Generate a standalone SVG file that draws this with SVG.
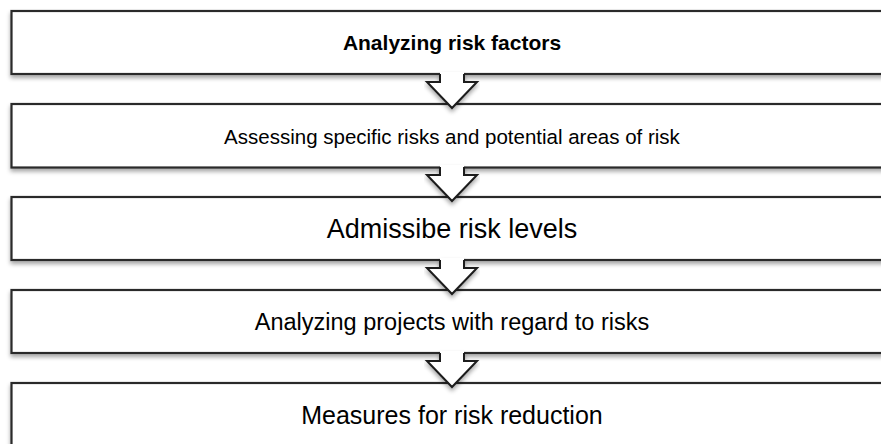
<svg xmlns="http://www.w3.org/2000/svg" width="881" height="444" viewBox="0 0 881 444">
  <defs>
    <filter id="shadow" x="-5%" y="-20%" width="110%" height="160%">
      <feDropShadow dx="0" dy="3" stdDeviation="2" flood-color="#000" flood-opacity="0.35"/>
    </filter>
  </defs>
  <style>
    .box { fill: #fff; stroke: #2a2a2a; stroke-width: 2.2; filter: url(#shadow); }
    .label { font-family: "Liberation Sans", Arial, sans-serif; fill: #000; text-anchor: middle; dominant-baseline: central; }
    .arrow-fill { fill: #fff; stroke: none; }
    .arrow-line { fill: none; stroke: #1a1a1a; stroke-width: 2; stroke-linejoin: miter; }
  </style>

  <!-- process steps -->
  <g id="step-1">
    <rect class="box" x="11.5" y="11" width="882" height="63"/>
    <text class="label" x="452" y="42.5" font-size="21" font-weight="bold">Analyzing risk factors</text>
  </g>
  <g id="step-2">
    <rect class="box" x="11.5" y="104" width="882" height="63.5"/>
    <text class="label" x="452" y="136" font-size="20.5">Assessing specific risks and potential areas of risk</text>
  </g>
  <g id="step-3">
    <rect class="box" x="11.5" y="197" width="882" height="63"/>
    <text class="label" x="452" y="228.5" font-size="27">Admissibe risk levels</text>
  </g>
  <g id="step-4">
    <rect class="box" x="11.5" y="290" width="882" height="63"/>
    <text class="label" x="452" y="321.5" font-size="23.5">Analyzing projects with regard to risks</text>
  </g>
  <g id="step-5">
    <rect class="box" x="11.5" y="383" width="882" height="63"/>
    <text class="label" x="452" y="414.5" font-size="25">Measures for risk reduction</text>
  </g>

  <!-- down arrows between steps, drawn over the box edges -->
  <g id="connectors">
    <g transform="translate(0,0)" filter="url(#shadow)">
      <polygon class="arrow-fill" points="440,72 464,72 464,82 477,82 452,108 427,82 440,82"/>
      <polyline class="arrow-line" points="440,74 440,82 427,82 452,108 477,82 464,82 464,74"/>
    </g>
    <g transform="translate(0,93)" filter="url(#shadow)">
      <polygon class="arrow-fill" points="440,72 464,72 464,82 477,82 452,108 427,82 440,82"/>
      <polyline class="arrow-line" points="440,74 440,82 427,82 452,108 477,82 464,82 464,74"/>
    </g>
    <g transform="translate(0,186)" filter="url(#shadow)">
      <polygon class="arrow-fill" points="440,72 464,72 464,82 477,82 452,108 427,82 440,82"/>
      <polyline class="arrow-line" points="440,74 440,82 427,82 452,108 477,82 464,82 464,74"/>
    </g>
    <g transform="translate(0,279)" filter="url(#shadow)">
      <polygon class="arrow-fill" points="440,72 464,72 464,82 477,82 452,108 427,82 440,82"/>
      <polyline class="arrow-line" points="440,74 440,82 427,82 452,108 477,82 464,82 464,74"/>
    </g>
  </g>
</svg>
